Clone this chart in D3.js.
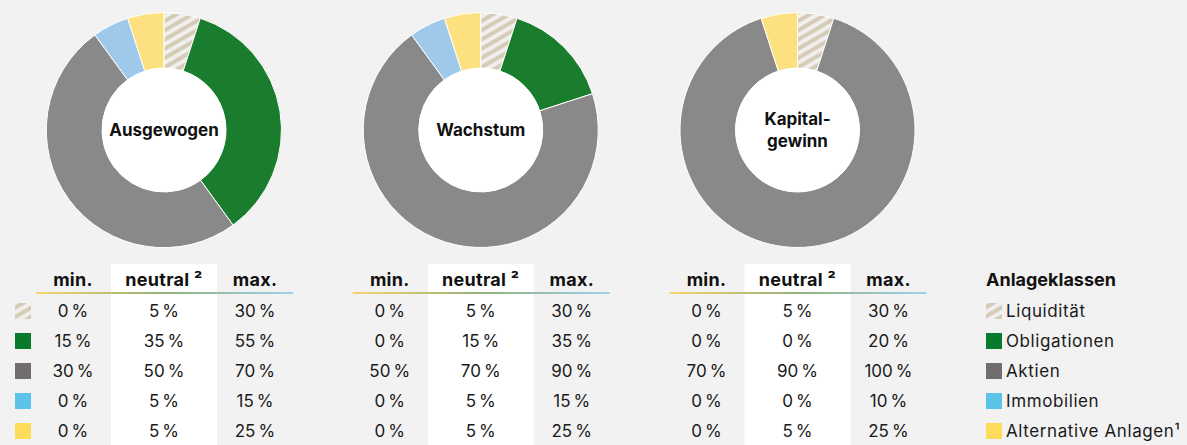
<!DOCTYPE html>
<html>
<head>
<meta charset="utf-8">
<script src="https://cdn.jsdelivr.net/npm/d3@7"></script>
<style>
  body { margin: 0; background: #f2f2f2; }
  svg { display: block; font-family: Inter, "Noto Sans", sans-serif; }
</style>
</head>
<body>
<div id="chart"></div>
<script>
const classes = ["Liquidität", "Obligationen", "Aktien", "Immobilien", "Alternative Anlagen¹"];
const portfolios = ["Ausgewogen", "Wachstum", "Kapital-gewinn"];

// per portfolio, per class: [min, neutral, max]
const minValues = [
    [0, 15, 30, 0, 0],
    [0, 0, 50, 0, 0],
    [0, 0, 70, 0, 0]
];
const neutralValues = [
    [5, 35, 50, 5, 5],
    [5, 15, 70, 5, 5],
    [5, 0, 90, 0, 5]
];
const maxValues = [
    [30, 55, 70, 15, 25],
    [30, 35, 90, 15, 25],
    [30, 20, 100, 10, 25]
];
const columnHeads = ["min.", "neutral ²", "max."];

const sliceColors = ["url(#hatch)", "#1a7d2e", "#888988", "#9ec9ea", "#fde180"];
const iconColors = ["url(#hatch)", "#087a2c", "#716d6d", "#5cc3e8", "#fddc5c"];

const width = 1187, height = 445;
const svg = d3.select("#chart").append("svg")
    .attr("width", width)
    .attr("height", height);

svg.append("rect").attr("width", width).attr("height", height).attr("fill", "#f2f2f2");

const defs = svg.append("defs");
const pat = defs.append("pattern")
    .attr("id", "hatch")
    .attr("patternUnits", "userSpaceOnUse")
    .attr("width", 8).attr("height", 8)
    .attr("patternTransform", "rotate(-30)");
pat.append("rect").attr("width", 8).attr("height", 8).attr("fill", "#f0efed");
pat.append("rect").attr("width", 8).attr("height", 4).attr("fill", "#d5ccb6");

const grad = defs.append("linearGradient").attr("id", "headline");
grad.append("stop").attr("offset", "0%").attr("stop-color", "#f7d66a");
grad.append("stop").attr("offset", "50%").attr("stop-color", "#93b07a");
grad.append("stop").attr("offset", "100%").attr("stop-color", "#9cd2ec");

const centers = d3.scalePoint().domain(portfolios).range([164, 797.5]);
const rowY = d3.scalePoint().domain(classes).range([311, 431]);
const colOffset = d3.scalePoint().domain(columnHeads).range([-91, 91]);

const pie = d3.pie().sort(null).value(d => d);
const arc = d3.arc().innerRadius(62).outerRadius(117.5);

// narrow space between number and percent sign
const fmt = v => v + "\u202F%";

portfolios.forEach((name, i) => {
    const cx = centers(name);

    // donut
    const g = svg.append("g").attr("transform", `translate(${cx},130)`);
    g.selectAll("path")
        .data(pie(neutralValues[i]).filter(d => d.value > 0))
        .join("path")
        .attr("d", arc)
        .attr("fill", d => sliceColors[d.index])
        .attr("stroke", "#ffffff")
        .attr("stroke-width", 1);
    g.append("circle").attr("r", 62).attr("fill", "#ffffff");

    const lines = name === "Kapital-gewinn" ? ["Kapital-", "gewinn"] : [name];
    g.append("text")
        .attr("text-anchor", "middle")
        .attr("font-size", 17)
        .attr("font-weight", 700)
        .attr("fill", "#111")
        .selectAll("tspan")
        .data(lines)
        .join("tspan")
        .attr("x", 0)
        .attr("y", (d, k) => (k - (lines.length - 1) / 2) * 22 + 6)
        .text(d => d);

    // table
    const t = svg.append("g").attr("transform", `translate(${cx},0)`);
    t.append("rect")
        .attr("x", -53).attr("y", 264)
        .attr("width", 106).attr("height", height - 264)
        .attr("fill", "#ffffff");
    t.append("rect")
        .attr("x", -128).attr("y", 292)
        .attr("width", 257).attr("height", 2)
        .attr("fill", "url(#headline)");

    t.selectAll("text.head")
        .data(columnHeads)
        .join("text")
        .attr("class", "head")
        .attr("x", d => colOffset(d))
        .attr("y", 286)
        .attr("text-anchor", "middle")
        .attr("font-size", 18)
        .attr("font-weight", 700)
        .attr("letter-spacing", 0.3)
        .attr("fill", "#111")
        .text(d => d);

    const cols = [minValues[i], neutralValues[i], maxValues[i]];
    columnHeads.forEach((h, c) => {
        t.selectAll(null)
            .data(cols[c])
            .join("text")
            .attr("x", colOffset(h))
            .attr("y", (d, k) => rowY(classes[k]) + 6)
            .attr("text-anchor", "middle")
            .attr("font-size", 17)
            .attr("letter-spacing", 0.6)
            .attr("fill", "#1a1a1a")
            .text(d => fmt(d));
    });
});

// row icons next to first table
svg.selectAll("rect.icon")
    .data(classes)
    .join("rect")
    .attr("class", "icon")
    .attr("x", 15).attr("y", d => rowY(d) - 8)
    .attr("width", 16).attr("height", 16)
    .attr("fill", (d, k) => iconColors[k]);

// legend
const lg = svg.append("g").attr("transform", "translate(986,0)");
lg.append("text")
    .attr("y", 286)
    .attr("font-size", 18)
    .attr("font-weight", 700)
    .attr("fill", "#111")
    .text("Anlageklassen");
lg.selectAll("rect")
    .data(classes)
    .join("rect")
    .attr("y", d => rowY(d) - 8)
    .attr("width", 16).attr("height", 16)
    .attr("fill", (d, k) => iconColors[k]);
lg.selectAll("text.item")
    .data(classes)
    .join("text")
    .attr("class", "item")
    .attr("x", 20)
    .attr("y", d => rowY(d) + 6)
    .attr("font-size", 17)
    .attr("letter-spacing", 0.6)
    .attr("fill", "#1a1a1a")
    .text(d => d);
</script>
</body>
</html>
